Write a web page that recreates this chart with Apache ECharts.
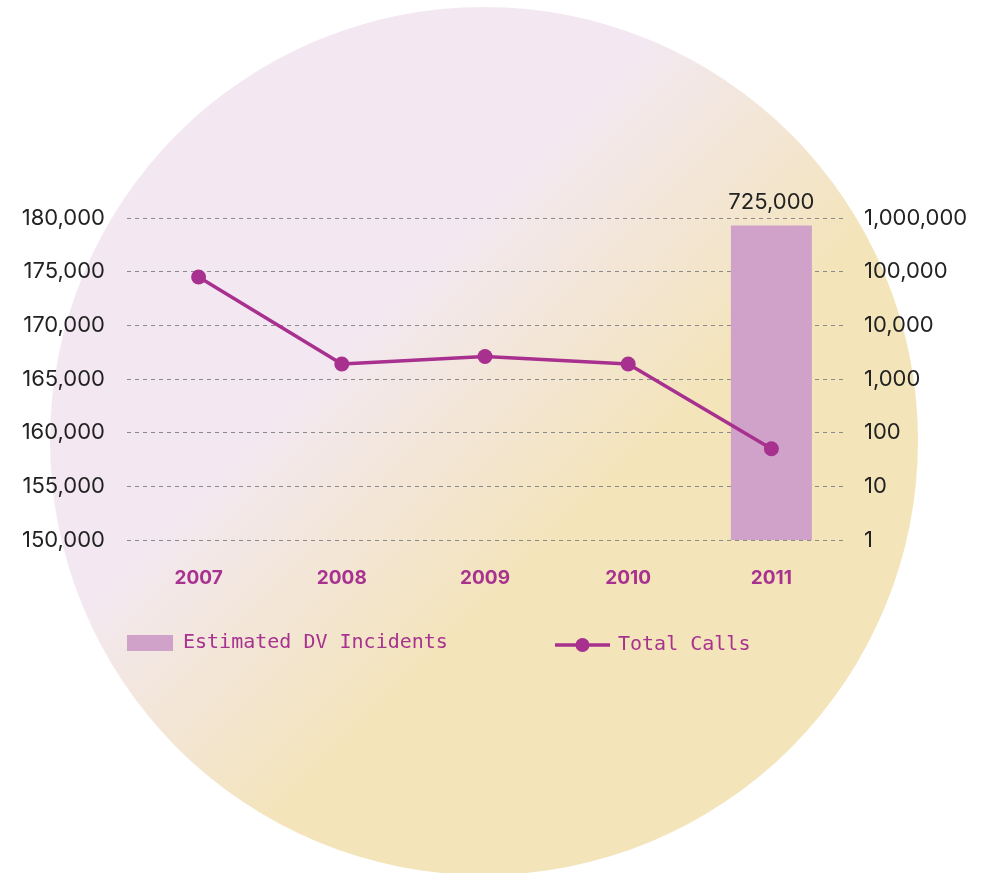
<!DOCTYPE html>
<html>
<head>
<meta charset="utf-8">
<script src="https://cdn.jsdelivr.net/npm/echarts@6/dist/echarts.min.js"></script>
<style>
html,body{margin:0;padding:0;background:#ffffff;}
#chart{width:989px;height:873px;}
</style>
</head>
<body>
<div id="chart"></div>
<script>
var years = ['2007', '2008', '2009', '2010', '2011'];
var totalCalls = [174500, 166400, 167100, 166400, 158500];
var dvIncidents = [null, null, null, null, 725000];
var leftTicks = [150000, 155000, 160000, 165000, 170000, 175000, 180000];
var rightTicks = [1, 10, 100, 1000, 10000, 100000, 1000000];

var chart = echarts.init(document.getElementById('chart'), null, {renderer: 'canvas'});

function fmt(v) { return Number(v).toLocaleString('en-US'); }

var lineIcon = 'path://M0,5.25h22v3.5h-22z M33,5.25h22v3.5h-22z M20.5,7a7,7 0 1,1 14,0a7,7 0 1,1 -14,0z';

var option = {
  backgroundColor: '#ffffff',
  animation: false,
  graphic: [{
    type: 'circle',
    z: -10,
    silent: true,
    shape: {cx: 484, cy: 441, r: 434},
    style: {
      fill: new echarts.graphic.LinearGradient(0, 0, 1, 1, [
        {offset: 0, color: '#F3E8F2'},
        {offset: 0.36, color: '#F3E8F2'},
        {offset: 0.6, color: '#F3E4BA'},
        {offset: 1, color: '#F3E4BA'}
      ])
    }
  }],
  grid: {left: 127, right: 146, top: 218, bottom: 333, containLabel: false},
  legend: [{
    data: ['Estimated DV Incidents'],
    left: 127, top: 633, padding: 0,
    itemWidth: 46, itemHeight: 16, itemGap: 10,
    icon: 'rect',
    textStyle: {fontFamily: 'DejaVu Sans Mono', fontSize: 20, color: '#A8328F', padding: [4, 0, 0, 5]}
  }, {
    data: [{name: 'Total Calls', icon: lineIcon}],
    left: 555, top: 635, padding: 0,
    itemWidth: 55, itemHeight: 14, itemGap: 8,
    textStyle: {fontFamily: 'DejaVu Sans Mono', fontSize: 20, color: '#A8328F', padding: [4, 0, 0, 3]}
  }],
  xAxis: {
    type: 'category',
    data: years,
    axisLine: {show: false},
    axisTick: {show: false},
    axisLabel: {
      margin: 29,
      fontFamily: 'Inter', fontWeight: 'bold', fontSize: 19, color: '#A8328F'
    }
  },
  yAxis: [{
    type: 'value',
    min: leftTicks[0], max: leftTicks[leftTicks.length - 1], interval: 5000,
    axisLine: {show: false}, axisTick: {show: false},
    axisLabel: {
      margin: 22, fontFamily: 'Inter', fontSize: 22, color: '#222222',
      lineHeight: 28, padding: [6, 0, 0, 0],
      formatter: function (v) { return fmt(v); }
    },
    splitLine: {show: true, lineStyle: {type: [4, 4], color: '#8a8a8a', width: 1}}
  }, {
    type: 'log',
    logBase: 10,
    min: rightTicks[0], max: rightTicks[rightTicks.length - 1],
    axisLine: {show: false}, axisTick: {show: false},
    axisLabel: {
      margin: 21, fontFamily: 'Inter', fontSize: 22, color: '#222222',
      lineHeight: 28, padding: [6, 0, 0, 0],
      formatter: function (v) { return fmt(v); }
    },
    splitLine: {show: false}
  }],
  series: [{
    name: 'Estimated DV Incidents',
    type: 'bar',
    yAxisIndex: 1,
    data: dvIncidents,
    barWidth: 81,
    itemStyle: {color: '#D0A2C9'},
    label: {
      show: true, position: 'top', distance: 12,
      fontFamily: 'Inter', fontSize: 22, color: '#222222',
      formatter: function (p) { return fmt(p.value); }
    }
  }, {
    name: 'Total Calls',
    type: 'line',
    yAxisIndex: 0,
    data: totalCalls,
    symbol: 'circle',
    symbolSize: 15,
    lineStyle: {color: '#A8308F', width: 3.5},
    itemStyle: {color: '#A8308F'},
    z: 5
  }]
};
chart.setOption(option);
</script>
</body>
</html>
